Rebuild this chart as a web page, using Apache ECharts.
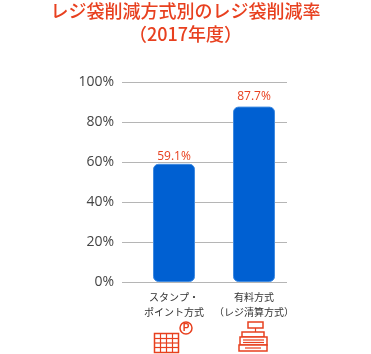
<!DOCTYPE html>
<html>
<head>
<meta charset="utf-8">
<style>html,body{margin:0;padding:0;background:#fff}#main{width:371px;height:354px}</style>
<script src="https://cdn.jsdelivr.net/npm/echarts@6/dist/echarts.min.js"></script>
</head>
<body>
<div id="main"></div>
<script>
var categories=['スタンプ・\nポイント方式','有料方式\n（レジ清算方式）'];
var rates=[59.1,87.7];
var titleText='レジ袋削減方式別のレジ袋削減率\n（2017年度）';
var red='#e8401f';
var jpFont='"Noto Sans CJK JP","Noto Sans",sans-serif';

// 飾りのアイコン
function line(x1,y1,x2,y2){
    return {type:'line',shape:{x1:x1,y1:y1,x2:x2,y2:y2},style:{stroke:red,lineWidth:1.2}};
}
function box(x,y,w,h,fill){
    return {type:'rect',shape:{x:x,y:y,width:w,height:h},style:{stroke:red,lineWidth:1.5,fill:fill||'#fff'}};
}
var calendar=[box(154.5,333.5,24,19),line(154.5,338.5,178.5,338.5),line(154.5,343,178.5,343),line(154.5,347.5,178.5,347.5),
    line(160.5,333.5,160.5,352.5),line(166.5,333.5,166.5,352.5),line(172.5,333.5,172.5,352.5),
    {type:'circle',shape:{cx:186,cy:328,r:6},style:{stroke:red,lineWidth:1.5,fill:'#fff'}},
    {type:'text',style:{x:186,y:328.5,text:'P',fill:red,font:'bold 10px "Liberation Sans"',align:'center',verticalAlign:'middle'}}];
var register=[box(248,322,15,6),line(255.5,328,255.5,332),box(242,332,22,5),
    box(240,337,27,8),line(243,340,264,340),line(243,342.5,264,342.5),
    box(239,345,28,6),line(245,348,261,348)];

var myChart=echarts.init(document.getElementById('main'),null,{renderer:'canvas'});
myChart.setOption({
    animation:false,
    title:{
        text:titleText,left:'center',top:-5,
        textStyle:{color:red,fontSize:18,fontWeight:500,lineHeight:23,fontFamily:jpFont}
    },
    grid:[
        {left:122,width:165,top:82,height:200},
        {left:134,width:160,top:82,height:200}
    ],
    xAxis:[
        {gridIndex:0,type:'category',data:categories,show:false},
        {gridIndex:1,type:'category',data:categories,
            axisLine:{show:false},axisTick:{show:false},
            axisLabel:{interval:0,color:'#333',fontSize:10,lineHeight:15,margin:8,fontFamily:jpFont}}
    ],
    yAxis:[
        {gridIndex:0,type:'value',min:0,max:100,interval:20,
            axisLine:{show:false},axisTick:{show:false},
            axisLabel:{formatter:'{value}%',color:'#444',fontSize:14,margin:8,padding:[2,0,0,0],fontFamily:'"Open Sans",sans-serif'},
            splitLine:{lineStyle:{color:'#b5b5b5',width:1}}},
        {gridIndex:1,type:'value',min:0,max:100,show:false}
    ],
    series:[{
        type:'bar',xAxisIndex:1,yAxisIndex:1,
        data:rates.map(function(v,i){
            return {value:v,label:{distance:i===0?1:4}};
        }),
        barWidth:42,
        itemStyle:{color:'#0060d2',borderRadius:5,borderColor:'#3f8ae0',borderWidth:1},
        label:{show:true,position:'top',formatter:'{c}%',color:red,fontSize:12,fontFamily:'"Open Sans",sans-serif'}
    }],
    graphic:{elements:calendar.concat(register)}
});
</script>
</body>
</html>
